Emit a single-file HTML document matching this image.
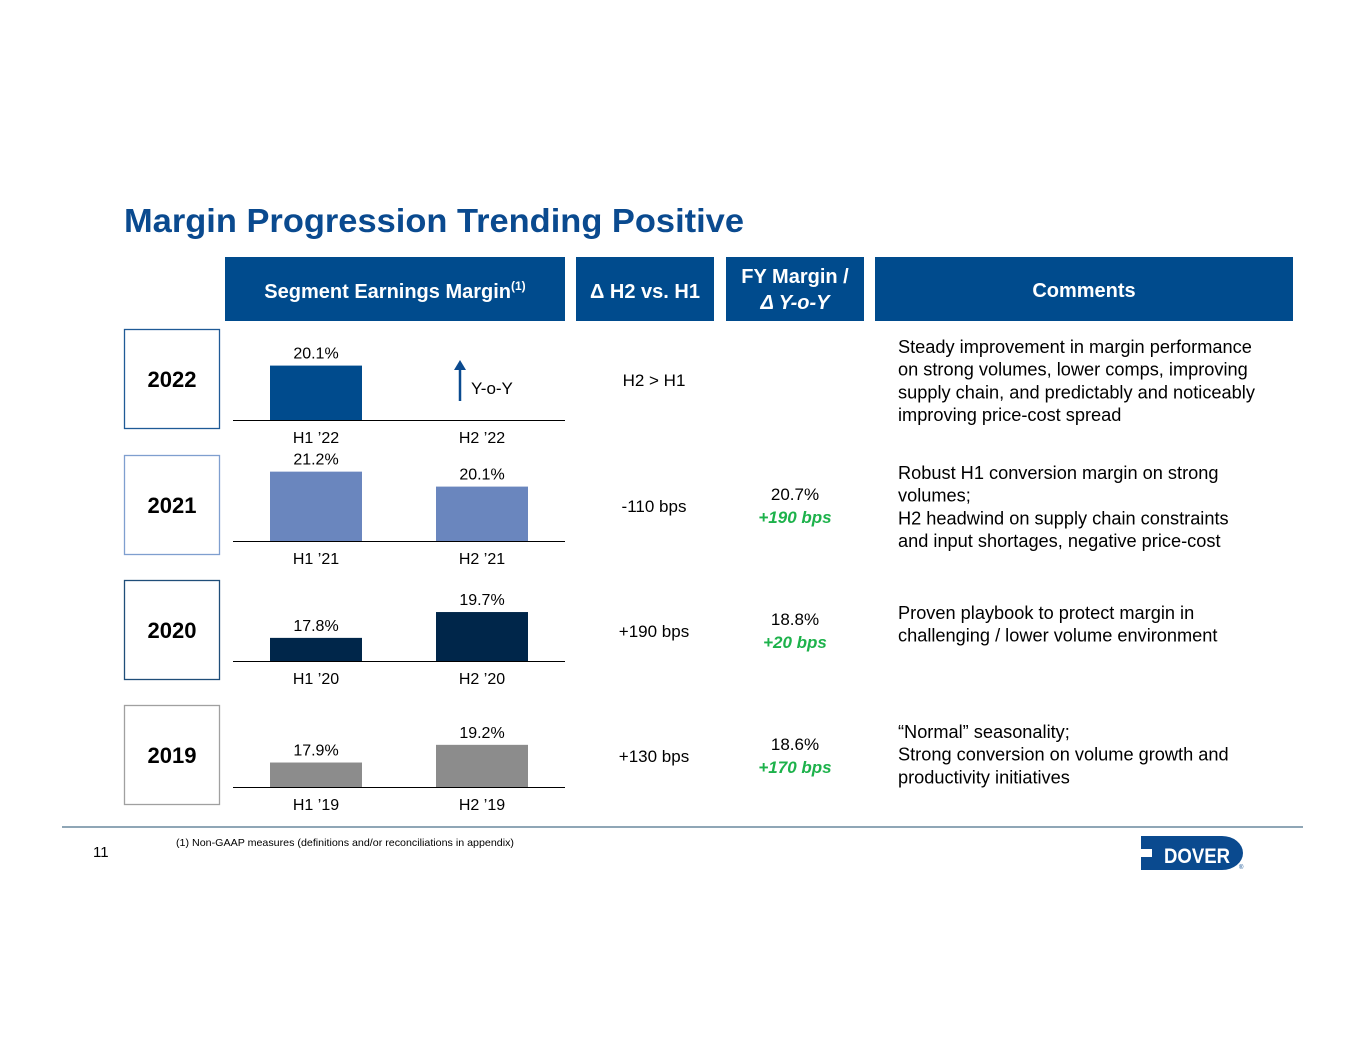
<!DOCTYPE html>
<html><head><meta charset="utf-8"><style>
html,body{margin:0;padding:0;background:#fff;}
body{width:1365px;height:1055px;overflow:hidden;font-family:"Liberation Sans",Arial,sans-serif;}
svg text{font-family:"Liberation Sans",Arial,sans-serif;}
</style></head><body>
<svg id="s" width="1365" height="1055" viewBox="0 0 1365 1055" xmlns="http://www.w3.org/2000/svg">
<text x="124" y="232" font-size="33" font-weight="bold" fill="#0A4A8F" textLength="620" lengthAdjust="spacingAndGlyphs">Margin Progression Trending Positive</text>
<g>
<rect x="225" y="257" width="340" height="64" fill="#004B8D"/>
<text x="395" y="298" font-size="20" font-weight="bold" fill="#fff" text-anchor="middle">Segment Earnings Margin<tspan font-size="12" dy="-8">(1)</tspan></text></g>
<g>
<rect x="576" y="257" width="138" height="64" fill="#004B8D"/>
<text x="645" y="298" font-size="20" font-weight="bold" fill="#fff" text-anchor="middle">Δ H2 vs. H1</text></g>
<g>
<rect x="726" y="257" width="138" height="64" fill="#004B8D"/>
<text x="795" y="283" font-size="20" font-weight="bold" fill="#fff" text-anchor="middle">FY Margin /</text>
<text x="795" y="309" font-size="20" font-weight="bold" font-style="italic" fill="#fff" text-anchor="middle">Δ Y-o-Y</text></g>
<g>
<rect x="875" y="257" width="418" height="64" fill="#004B8D"/>
<text x="1084" y="297" font-size="20" font-weight="bold" fill="#fff" text-anchor="middle">Comments</text></g>
<g id="rows"></g>
<text x="471" y="394" font-size="17" fill="#000">Y-o-Y</text>
<line x1="460" y1="401" x2="460" y2="368" stroke="#0A4A8F" stroke-width="2.5"/>
<polygon points="454,370 466,370 460,360" fill="#0A4A8F"/>
<line x1="62" y1="827" x2="1303" y2="827" stroke="#1F4E6E" stroke-width="1"/>
<text x="93" y="857" font-size="15" fill="#000">11</text>
<text x="176" y="846" font-size="10.5" fill="#000" textLength="338" lengthAdjust="spacingAndGlyphs">(1)    Non-GAAP measures (definitions and/or reconciliations in appendix)</text>
<g>
<path d="M1141,836 H1222 A21,17 0 0 1 1222,870 H1141 V857 H1152 V849 H1141 Z" fill="#0A4A8F"/>
<text x="1197" y="863" font-size="21" font-weight="bold" fill="#fff" text-anchor="middle" textLength="66" lengthAdjust="spacingAndGlyphs">DOVER</text>
<text x="1239" y="869" font-size="6" fill="#0A4A8F">®</text></g>
</svg>
<script>
const years=["2022","2021","2020","2019"];
const h1Values=[20.1,21.2,17.8,17.9];
const h2Values=[null,20.1,19.7,19.2];
const h1Labels=["H1 ’22","H1 ’21","H1 ’20","H1 ’19"];
const h2Labels=["H2 ’22","H2 ’21","H2 ’20","H2 ’19"];
const deltaText=["H2 > H1","-110 bps","+190 bps","+130 bps"];
const fyMargin=[null,"20.7%","18.8%","18.6%"];
const fyDelta=[null,"+190 bps","+20 bps","+170 bps"];
const comments=[["Steady improvement in margin performance","on strong volumes, lower comps, improving","supply chain, and predictably and noticeably","improving price-cost spread"],["Robust H1 conversion margin on strong","volumes;","H2 headwind on supply chain constraints","and input shortages, negative price-cost"],["Proven playbook to protect margin in","challenging / lower volume environment"],["“Normal” seasonality;","Strong conversion on volume growth and","productivity initiatives"]];
const barColors=["#004B8D","#6A86BE","#00264A","#8C8C8C"];
const boxBorders=["#1F5A96","#7F9FCF","#1F4E79","#A0A0A0"];
const baselines=[420,541,661,787];
const boxTops=[329,455,580,705];
const NS="http://www.w3.org/2000/svg";
const g=document.getElementById("rows");
const BASE=16.1,K=13.6;
function yScale(v,b){return b-(v-BASE)*K;}
function el(t,a,txt){const e=document.createElementNS(NS,t);for(const k in a)e.setAttribute(k,a[k]);if(txt!=null)e.textContent=txt;g.appendChild(e);return e;}
years.forEach((yr,i)=>{
 const b=baselines[i];
 const bt=boxTops[i];
 let e=el("rect",{x:124.5,y:bt+0.5,width:95,height:99,fill:"none",stroke:boxBorders[i],"stroke-width":1.3});
 
 
 e=el("text",{x:172,y:bt+58,"font-size":22,"font-weight":"bold","text-anchor":"middle",fill:"#000"},yr);
 
 
 e=el("line",{x1:233,y1:b+0.5,x2:565,y2:b+0.5,stroke:"#000","stroke-width":1});
 
 
 [[h1Values[i],270,h1Labels[i],'h1'],[h2Values[i],436,h2Labels[i],'h2']].forEach(([v,x,lab,k])=>{
  if(v!=null){
   const top=yScale(v,b);
   e=el("rect",{x:x,y:top,width:92,height:b-top,fill:barColors[i]});
   
   
   e=el("text",{x:x+46,y:top-7,"font-size":16,"text-anchor":"middle",fill:"#000"},v.toFixed(1)+"%");
   
   
  }
  e=el("text",{x:x+46,y:b+23,"font-size":16,"text-anchor":"middle",fill:"#000"},lab);
  
  
 });
 e=el("text",{x:654,y:bt+57,"font-size":17,"text-anchor":"middle",fill:"#000"},deltaText[i]);
 
 
 if(fyMargin[i]){
  e=el("text",{x:795,y:bt+45,"font-size":17,"text-anchor":"middle",fill:"#000"},fyMargin[i]);
  
  
  e=el("text",{x:795,y:bt+68,"font-size":17,"font-weight":"bold","font-style":"italic","text-anchor":"middle",fill:"#1DB24B"},fyDelta[i]);
  
  
 }
 const lines=comments[i];
 const startY=[353,479,619,738][i];
 lines.forEach((t,j)=>{
  e=el("text",{x:898,y:startY+j*22.7,"font-size":18.2,fill:"#000"},t);
  
  
 });
});
</script>
</body></html>
